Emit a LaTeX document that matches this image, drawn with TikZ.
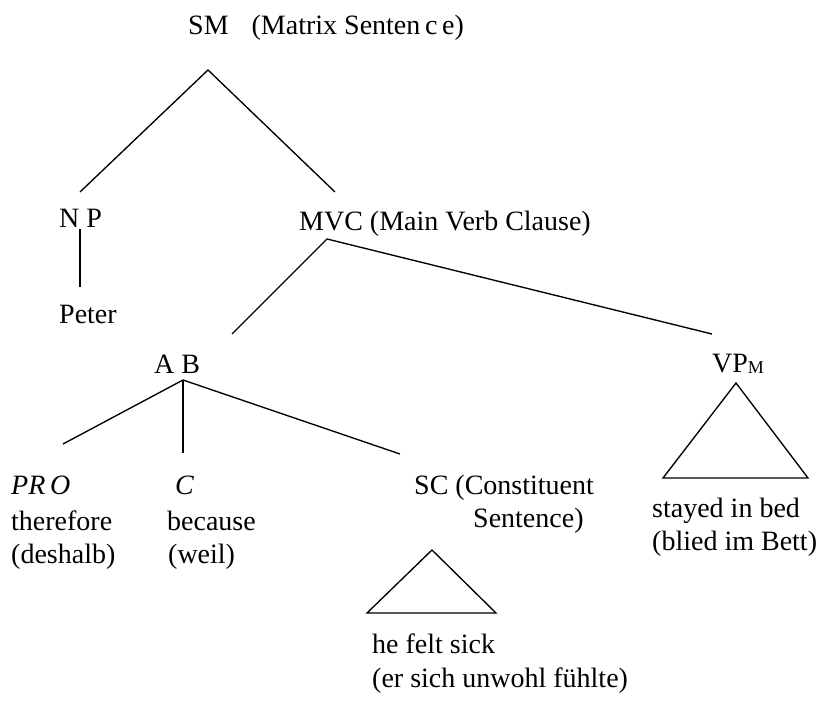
\documentclass[tikz,border=0pt]{standalone}
\usepackage{fontspec}
\setmainfont{Liberation Serif}
\begin{document}
\begin{tikzpicture}[x=1pt,y=-1pt,
  txt/.style={inner sep=0pt, anchor=base west, font=\fontsize{28}{30}\selectfont},
  ln/.style={line width=1.35pt, line join=miter}]
\useasboundingbox (0,0) rectangle (820,706);
% labels
\node[txt] (sm) at (188,35) {SM\hspace{23pt}(Matrix Senten\,c\,e)};
\node[txt] (np) at (59,227) {N P};
\node[txt] (peter) at (59,323) {Peter};
\node[txt] (mvc) at (299,230) {MVC (Main Verb Clause)};
\node[txt] (ab) at (154,373) {A B};
\node[txt] (vpm) at (712,372) {VP\raisebox{-1pt}{\fontsize{18}{18}\selectfont M}};
\node[txt] (pro) at (11,494) {\itshape PR\,O};
\node[txt] (pro2) at (11,530) {therefore};
\node[txt] (pro3) at (11,563) {(deshalb)};
\node[txt] (c) at (175,494) {\itshape C};
\node[txt] (c2) at (167,530) {because};
\node[txt] (c3) at (168,563) {(weil)};
\node[txt] (sc) at (414,494) {SC (Constituent};
\node[txt] (sc2) at (473,527) {Sentence)};
\node[txt] (sc3) at (372,653) {he felt sick};
\node[txt] (sc4) at (372,687) {(er sich unwohl fühlte)};
\node[txt] (vp2) at (652,517) {stayed in bed};
\node[txt] (vp3) at (652,550) {(blied im Bett)};
% connector ends
\coordinate (smB) at (208,70);
\coordinate (npT) at (80,192);
\coordinate (mvcT) at (335,192);
\coordinate (npB) at (80,229);
\coordinate (peterT) at (80,287);
\coordinate (mvcB) at (327,239);
\coordinate (abT) at (232,334);
\coordinate (vpT) at (712,334);
\coordinate (abB) at (183,380);
\coordinate (proT) at (63,444);
\coordinate (cT) at (183,453);
\coordinate (scT) at (400,454);
\coordinate (scA) at (432,550);
\coordinate (scL) at (367,613);
\coordinate (scR) at (496,613);
\coordinate (vpA) at (736,383);
\coordinate (vpL) at (663,478);
\coordinate (vpR) at (808,478);
% tree lines
\draw[ln] (npT) -- (smB) -- (mvcT);
\draw[ln] (npB) -- (peterT);
\draw[ln] (abT) -- (mvcB) -- (vpT);
\draw[ln] (proT) -- (abB) -- (scT);
\draw[ln] (abB) -- (cT);
\draw[ln] (scA) -- (scL) -- (scR) -- cycle;
\draw[ln] (vpA) -- (vpL) -- (vpR) -- cycle;
\end{tikzpicture}
\end{document}
